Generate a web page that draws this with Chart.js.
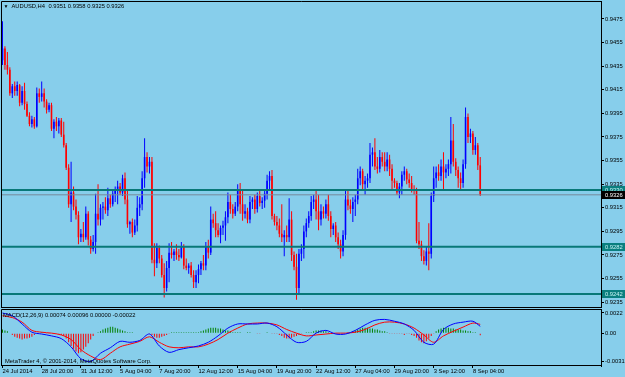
<!DOCTYPE html>
<html><head><meta charset="utf-8">
<script src="https://cdn.jsdelivr.net/npm/chart.js@4/dist/chart.umd.min.js"></script>
<style>
html,body{margin:0;padding:0;background:#87CEEB;}
#wrap{position:relative;width:625px;height:377px;overflow:hidden;background:#87CEEB;}
canvas{position:absolute;left:0;}
#c1{top:0;width:625px;height:308px;}
#c2{top:308px;width:625px;height:69px;}
</style></head><body>
<div id="wrap"><canvas id="c1" width="625" height="308"></canvas><canvas id="c2" width="625" height="69"></canvas></div>
<script>
// ---------- DATA ----------
const symbolTitle = 'AUDUSD,H4';
const titleValues = '0.9351 0.9358 0.9325 0.9326';
const macdTitle = 'MACD(12,26,9) 0.00074 0.00096 0.00000 -0.00022';
const copyrightText = 'MetaTrader 4, \u00A9 2001-2014, MetaQuotes Software Corp.';

const open = [
.9440,.9450,.9436,.9432,.9412,.9418,.9414,.9419,.9404,.9414,.9403,.9393,.9386,.9390,.9384,.9412,.9409,.9412,.9405,.9398,
.9402,.9382,.9388,.9384,.9389,.9377,.9368,.9349,.9318,.9328,.9316,.9309,.9290,.9293,.9290,.9310,.9288,.9280,.9286,.9310,
.9305,.9315,.9316,.9313,.9323,.9318,.9327,.9331,.9333,.9328,.9340,.9322,.9301,.9303,.9294,.9300,.9315,.9318,.9340,.9358,
.9350,.9354,.9271,.9268,.9281,.9272,.9258,.9247,.9264,.9277,.9275,.9278,.9275,.9273,.9282,.9266,.9264,.9266,.9258,.9252,
.9258,.9263,.9268,.9266,.9282,.9277,.9305,.9302,.9296,.9292,.9298,.9300,.9307,.9320,.9314,.9310,.9316,.9330,.9318,.9310,
.9312,.9305,.9320,.9322,.9314,.9325,.9319,.9321,.9327,.9338,.9342,.9308,.9303,.9300,.9293,.9290,.9292,.9290,.9305,.9275,
.9265,.9247,.9276,.9280,.9295,.9302,.9308,.9320,.9322,.9312,.9305,.9312,.9310,.9318,.9308,.9297,.9300,.9290,.9284,.9278,
.9292,.9322,.9317,.9314,.9320,.9322,.9340,.9346,.9335,.9338,.9340,.9360,.9362,.9350,.9348,.9358,.9354,.9350,.9356,.9348,
.9338,.9336,.9328,.9333,.9343,.9346,.9339,.9336,.9331,.9330,.9287,.9284,.9274,.9270,.9278,.9276,.9325,.9340,.9345,.9342,
.9350,.9345,.9348,.9352,.9372,.9354,.9347,.9340,.9336,.9352,.9392,.9375,.9378,.9364,.9368,.9351];
const high = [
.9473,.9452,.9447,.9434,.9420,.9422,.9422,.9420,.9418,.9421,.9405,.9396,.9393,.9392,.9417,.9416,.9422,.9416,.9407,.9404,
.9404,.9390,.9392,.9391,.9391,.9388,.9370,.9352,.9354,.9333,.9322,.9312,.9297,.9303,.9316,.9312,.9291,.9292,.9327,.9335,
.9318,.9320,.9324,.9332,.9326,.9330,.9333,.9338,.9336,.9343,.9345,.9330,.9304,.9306,.9305,.9325,.9324,.9346,.9374,.9362,
.9358,.9358,.9285,.9285,.9283,.9275,.9268,.9270,.9285,.9286,.9280,.9284,.9280,.9286,.9284,.9272,.9268,.9269,.9262,.9262,
.9267,.9270,.9275,.9286,.9288,.9316,.9310,.9312,.9302,.9300,.9304,.9312,.9328,.9326,.9318,.9320,.9335,.9336,.9330,.9318,
.9315,.9325,.9324,.9326,.9328,.9330,.9324,.9330,.9343,.9346,.9347,.9310,.9308,.9306,.9318,.9296,.9300,.9323,.9312,.9278,
.9276,.9280,.9284,.9300,.9306,.9312,.9325,.9326,.9330,.9326,.9318,.9316,.9322,.9326,.9312,.9302,.9303,.9294,.9288,.9296,
.9330,.9330,.9322,.9324,.9326,.9348,.9350,.9348,.9342,.9344,.9370,.9366,.9374,.9358,.9364,.9362,.9362,.9362,.9360,.9352,
.9340,.9338,.9336,.9346,.9350,.9348,.9344,.9342,.9334,.9332,.9303,.9287,.9279,.9282,.9302,.9328,.9350,.9350,.9352,.9356,
.9362,.9352,.9356,.9392,.9386,.9357,.9350,.9345,.9356,.9400,.9395,.9382,.9380,.9375,.9370,.9358];
const low = [
.9436,.9432,.9428,.9410,.9408,.9410,.9410,.9401,.9402,.9398,.9392,.9384,.9383,.9382,.9383,.9404,.9405,.9400,.9395,.9396,
.9380,.9374,.9380,.9378,.9375,.9366,.9347,.9315,.9303,.9313,.9305,.9284,.9286,.9286,.9288,.9283,.9276,.9278,.9276,.9300,
.9300,.9305,.9310,.9308,.9315,.9316,.9320,.9318,.9326,.9325,.9318,.9298,.9293,.9290,.9292,.9295,.9308,.9313,.9332,.9345,
.9344,.9268,.9257,.9264,.9268,.9256,.9239,.9244,.9252,.9272,.9270,.9271,.9270,.9272,.9263,.9262,.9259,.9256,.9247,.9247,
.9251,.9258,.9262,.9262,.9272,.9275,.9298,.9290,.9290,.9285,.9292,.9287,.9302,.9310,.9306,.9308,.9312,.9310,.9304,.9306,
.9302,.9302,.9314,.9310,.9311,.9316,.9314,.9315,.9322,.9330,.9305,.9300,.9296,.9290,.9286,.9274,.9286,.9286,.9270,.9262,
.9237,.9242,.9270,.9272,.9290,.9298,.9304,.9314,.9305,.9296,.9300,.9306,.9306,.9304,.9290,.9292,.9286,.9280,.9272,.9274,
.9288,.9313,.9310,.9303,.9308,.9318,.9334,.9330,.9326,.9332,.9336,.9350,.9347,.9344,.9345,.9350,.9346,.9346,.9342,.9330,
.9332,.9326,.9323,.9326,.9338,.9335,.9332,.9328,.9326,.9285,.9280,.9270,.9267,.9266,.9262,.9272,.9320,.9332,.9338,.9338,
.9330,.9340,.9342,.9344,.9350,.9342,.9332,.9330,.9332,.9348,.9370,.9370,.9360,.9360,.9347,.9325];
const close = [
.9450,.9436,.9432,.9412,.9418,.9414,.9419,.9404,.9414,.9403,.9393,.9386,.9390,.9384,.9412,.9409,.9412,.9405,.9398,.9402,
.9382,.9388,.9384,.9389,.9377,.9368,.9349,.9318,.9328,.9316,.9309,.9290,.9293,.9290,.9310,.9288,.9280,.9286,.9310,.9305,
.9315,.9316,.9313,.9323,.9318,.9327,.9331,.9333,.9328,.9340,.9322,.9301,.9303,.9294,.9300,.9315,.9318,.9340,.9358,.9350,
.9354,.9271,.9268,.9281,.9272,.9258,.9247,.9264,.9277,.9275,.9278,.9275,.9273,.9282,.9266,.9264,.9266,.9258,.9252,.9258,
.9263,.9268,.9266,.9282,.9277,.9305,.9302,.9296,.9292,.9298,.9300,.9307,.9320,.9314,.9310,.9316,.9330,.9318,.9310,.9312,
.9305,.9320,.9322,.9314,.9325,.9319,.9321,.9327,.9338,.9342,.9308,.9303,.9300,.9293,.9290,.9292,.9290,.9305,.9275,.9265,
.9247,.9276,.9280,.9295,.9302,.9308,.9320,.9322,.9312,.9305,.9312,.9310,.9318,.9308,.9297,.9300,.9290,.9284,.9278,.9292,
.9322,.9317,.9314,.9320,.9322,.9340,.9346,.9335,.9338,.9340,.9360,.9362,.9350,.9348,.9358,.9354,.9350,.9356,.9348,.9338,
.9336,.9328,.9333,.9343,.9346,.9339,.9336,.9331,.9330,.9287,.9284,.9274,.9270,.9278,.9276,.9325,.9340,.9345,.9342,.9350,
.9345,.9348,.9352,.9372,.9354,.9347,.9340,.9336,.9352,.9392,.9375,.9378,.9364,.9368,.9351,.9326];

const priceTicks = [0.9475,0.9455,0.9435,0.9415,0.9395,0.9375,0.9355,0.9335,0.9315,0.9295,0.9275,0.9255,0.9235];
const levelLines = [0.9330, 0.9282, 0.9242];
const bidLine = 0.9326;

const timeTickBars = [0,16,32,48,64,80,96,112,128,144,160,176,192];
const timeTickLabels = ['24 Jul 2014','28 Jul 20:00','31 Jul 12:00','5 Aug 04:00','7 Aug 20:00','12 Aug 12:00',
  '15 Aug 04:00','19 Aug 20:00','22 Aug 12:00','27 Aug 04:00','29 Aug 20:00','3 Sep 12:00','8 Sep 04:00'];

const macdTickValues = [0.0022, 0, -0.0031];
const macdTickLabels = ['0.0022','0.00','-0.0031'];

const macdBars = [0,4,8,12,16,20,24,28,32,36,40,44,48,52,56,60,64,68,72,76,80,84,88,92,96,100,104,108,112,116,120,124,128,132,136,140,144,148,152,156,160,164,168,172,176,180,184,188,192,195];
const macdMain = [0.0022,0.0019,0.0010,0.0001,-0.0001,-0.0003,-0.0006,-0.0015,-0.0028,-0.0031,-0.0022,-0.0016,-0.0009,-0.0010,-0.0008,-0.0001,
  -0.0014,-0.0021,-0.0018,-0.0016,-0.0014,-0.0010,-0.0003,0.00055,0.0010,0.0010,0.0010,0.0011,0.0007,-0.0002,-0.0010,-0.0009,
  0.0000,0.0003,-0.0001,-0.0001,0.0003,0.0009,0.0014,0.0015,0.0013,0.0010,0.0003,-0.0010,-0.0012,0.0004,0.0010,0.0012,0.0013,0.00074];
const macdSignal = [0.0019,0.0017,0.0012,0.0003,0.0001,0.0000,-0.0002,-0.0007,-0.0018,-0.0025,-0.0029,-0.0022,-0.0015,-0.0012,-0.0009,-0.0004,
  -0.0010,-0.0015,-0.0016,-0.0015,-0.0015,-0.0012,-0.0007,0.0000,0.00055,0.0010,0.0011,0.0011,0.0009,0.0004,0.0000,-0.0003,
  -0.0002,-0.0001,0.0000,0.0000,0.0001,0.0004,0.0009,0.0012,0.0012,0.0010,0.00055,-0.0002,-0.0010,-0.0003,0.0002,0.00066,0.0011,0.00096];
const macdHist = [
0.0004,0.0003,0.0002,
0,
-0.0002,-0.0004,-0.0005,-0.0006,-0.0007,-0.0006,-0.0006,-0.0005,-0.0004,
-0.0002,-0.0001,0,0.0001,0,-0.0001,-0.0001,0,0,-0.0001,-0.0001,-0.0002,
-0.0003,-0.0006,-0.0010,-0.0014,-0.0017,-0.0020,-0.0022,-0.0021,-0.0018,-0.0015,-0.0011,-0.0007,-0.0003,
0,0.0001,
0.0002,0.0004,0.0005,0.0006,0.0007,0.0007,0.0006,0.0005,0.0004,0.0003,0.0002,0.0001,
0.0001,0.0001,0,0,0,0,0,0,-0.0001,
-0.0002,-0.0004,-0.0005,-0.0005,-0.0004,-0.0003,-0.0002,-0.0001,
0.0001,0.0001,0.0001,0.0001,0.0001,0.0001,0.0001,0.0001,0.0001,0.0001,0.0001,
0.0001,0.0002,0.0003,0.0004,0.0005,0.0006,0.0006,0.0006,0.0005,0.0005,0.0004,0.0003,0.0003,0.0002,0.0001,
0.0001,0.0001,0.0001,0,0,0.0001,0.0001,0,0,-0.0001,-0.0001,0,0,0.0001,0,-0.0001,-0.0001,-0.0001,
-0.0002,-0.0003,-0.0005,-0.0006,-0.0006,-0.0005,-0.0004,-0.0003,-0.0002,
-0.0001,0,0.0001,0.0001,
0.0001,0.0002,0.0003,0.0003,0.0003,0.0002,0.0002,0.0001,
0,0,-0.0001,0,0,0,0,0.0001,
0.0001,0.0002,0.0003,0.0004,0.0005,0.0006,0.0006,0.0006,0.0005,0.0005,0.0004,0.0004,0.0003,0.0002,0.0002,0.0001,
-0.0001,-0.0001,-0.0001,-0.0001,-0.0001,-0.0001,-0.0002,-0.0001,-0.0001,-0.0002,
-0.0003,-0.0005,-0.0008,-0.0010,-0.0011,-0.0009,-0.0006,-0.0003,-0.0001,
0.0002,0.0004,0.0005,0.0006,0.0006,0.0006,0.0005,0.0005,0.0004,0.0004,0.0004,0.0003,0.0003,0.0002,0.0002,0.0001,0.0001,
0,-0.00022];

// ---------- STYLE ----------
const FONT = "'Liberation Sans', Arial, sans-serif";
const FS = 5.8;
const BULL = '#0000ff', BEAR = '#ff0000';
const TEAL = '#087878';
const X_MIN = -0.61, X_MAX = 244.29;
const P_MAX = 0.949025, P_MIN = 0.923008;
const M_MAX = 0.002637, M_MIN = -0.003592;

Chart.defaults.font.family = FONT;
Chart.defaults.color = '#000';

const idx = close.map((_, i) => i);
const candleColors = idx.map(i => close[i] >= open[i] ? BULL : BEAR);

function zeroPad(s){ s.paddingTop = 0; s.paddingBottom = 0; s.paddingLeft = 0; s.paddingRight = 0; }

const framePlugin = {
  id: 'frame',
  afterDraw(chart) {
    const a = chart.chartArea, ctx = chart.ctx;
    ctx.save();
    ctx.strokeStyle = '#000'; ctx.lineWidth = 1;
    ctx.beginPath();
    ctx.moveTo(a.left + 0.5, a.bottom); ctx.lineTo(a.left + 0.5, a.top + 0.5); ctx.lineTo(a.right, a.top + 0.5);
    ctx.moveTo(a.left, a.bottom - 0.5); ctx.lineTo(a.right, a.bottom - 0.5);
    ctx.stroke();
    ctx.restore();
  }
};

const mainText = {
  id: 'mainText',
  afterDraw(chart) {
    const ctx = chart.ctx, y = chart.scales.y;
    ctx.save();
    ctx.textBaseline = 'middle';
    ctx.fillStyle = '#000';
    ctx.font = '5px ' + FONT;
    ctx.fillText('\u25BC', 3.5, 6.5);
    ctx.font = FS + 'px ' + FONT;
    ctx.fillText(symbolTitle, 11.5, 6.5);
    ctx.fillText(titleValues, 48.5, 6.5);
    const tag = (v, bg, fg) => {
      const py = Math.round(y.getPixelForValue(v));
      ctx.fillStyle = bg;
      ctx.fillRect(602, py - 4, 23, 8);
      ctx.fillStyle = fg;
      ctx.fillText(v.toFixed(4), 605, py + 0.5);
    };
    levelLines.forEach(v => tag(v, '#0a7f7f', '#c8f4f4'));
    tag(bidLine, '#000000', '#ffffff');
    ctx.restore();
  }
};

const macdText = {
  id: 'macdText',
  afterDraw(chart) {
    const ctx = chart.ctx;
    ctx.save();
    ctx.font = FS + 'px ' + FONT;
    ctx.textBaseline = 'middle';
    ctx.fillStyle = '#000';
    ctx.fillText(macdTitle, 3, 7.5);
    ctx.fillText(copyrightText, 5, 53.5);
    ctx.restore();
  }
};

const levelDatasets = levelLines.map(v => ({
  type: 'line', data: [{x: X_MIN, y: v}, {x: X_MAX, y: v}],
  borderColor: TEAL, borderWidth: 2, pointRadius: 0, order: 0
}));
levelDatasets.push({
  type: 'line', data: [{x: X_MIN, y: bidLine}, {x: X_MAX, y: bidLine}],
  borderColor: '#778899', borderWidth: 1, pointRadius: 0, order: 0
});

new Chart(document.getElementById('c1'), {
  type: 'bar',
  data: {
    datasets: [
      ...levelDatasets,
      { type: 'bar', data: idx.map(i => ({x: i, y: [low[i], high[i]]})), backgroundColor: candleColors,
        barThickness: 1, grouped: false, borderWidth: 0, inflateAmount: 0, order: 3 },
      { type: 'bar', data: idx.map(i => ({x: i, y: [open[i], close[i]]})), backgroundColor: candleColors,
        barThickness: 1.6, minBarLength: 1, grouped: false, borderWidth: 0, inflateAmount: 0, order: 2 }
    ]
  },
  options: {
    responsive: false, animation: false, devicePixelRatio: 1, events: [],
    layout: { padding: { left: 1, top: 1, right: 0, bottom: 0 } },
    plugins: { legend: { display: false }, tooltip: { enabled: false } },
    scales: {
      x: { type: 'linear', min: X_MIN, max: X_MAX, offset: false, display: false },
      y: {
        position: 'right', min: P_MIN, max: P_MAX,
        afterBuildTicks: s => { s.ticks = priceTicks.map(v => ({value: v})); },
        afterFit: s => { s.width = 24; zeroPad(s); },
        grid: { drawOnChartArea: false, drawTicks: true, tickLength: 3, color: '#000' },
        border: { display: true, color: '#000' },
        ticks: { padding: 1, color: '#000', font: { family: FONT, size: FS },
                 callback: v => Number(v).toFixed(4) }
      }
    }
  },
  plugins: [framePlugin, mainText]
});

new Chart(document.getElementById('c2'), {
  type: 'bar',
  data: {
    datasets: [
      { type: 'line', data: macdBars.map((b, k) => ({x: b, y: macdMain[k]})), borderColor: BULL, borderWidth: 1,
        pointRadius: 0, tension: 0.3, order: 0 },
      { type: 'line', data: macdBars.map((b, k) => ({x: b, y: macdSignal[k]})), borderColor: BEAR, borderWidth: 1,
        pointRadius: 0, tension: 0.3, order: 1 },
      { type: 'bar', data: idx.map(i => ({x: i, y: macdHist[i]})),
        backgroundColor: idx.map(i => macdHist[i] >= 0 ? '#008000' : '#ff0000'),
        barThickness: 1, grouped: false, borderWidth: 0, inflateAmount: 0, order: 2 }
    ]
  },
  options: {
    responsive: false, animation: false, devicePixelRatio: 1, events: [],
    layout: { padding: { left: 1, top: 1, right: 0, bottom: 0 } },
    plugins: { legend: { display: false }, tooltip: { enabled: false } },
    scales: {
      x: {
        type: 'linear', position: 'bottom', min: X_MIN, max: X_MAX, offset: false,
        afterBuildTicks: s => { s.ticks = timeTickBars.map(v => ({value: v})); },
        afterFit: s => { s.height = 11; zeroPad(s); },
        grid: { display: true, drawOnChartArea: false, drawTicks: true, tickLength: 2, color: '#000', offset: false },
        border: { display: false },
        ticks: { align: 'start', padding: 0, maxRotation: 0, minRotation: 0, autoSkip: false, color: '#000',
                 font: { family: FONT, size: FS },
                 callback: v => { const k = timeTickBars.indexOf(v); return k >= 0 ? timeTickLabels[k] : ''; } }
      },
      y: {
        position: 'right', min: M_MIN, max: M_MAX,
        afterBuildTicks: s => { s.ticks = macdTickValues.map(v => ({value: v})); },
        afterFit: s => { s.width = 24; zeroPad(s); },
        grid: { drawOnChartArea: false, drawTicks: true, tickLength: 3, color: '#000' },
        border: { display: true, color: '#000' },
        ticks: { padding: 1, color: '#000', font: { family: FONT, size: FS },
                 callback: v => { const k = macdTickValues.indexOf(v); return k >= 0 ? macdTickLabels[k] : ''; } }
      }
    }
  },
  plugins: [framePlugin, macdText]
});
</script>
</body></html>
